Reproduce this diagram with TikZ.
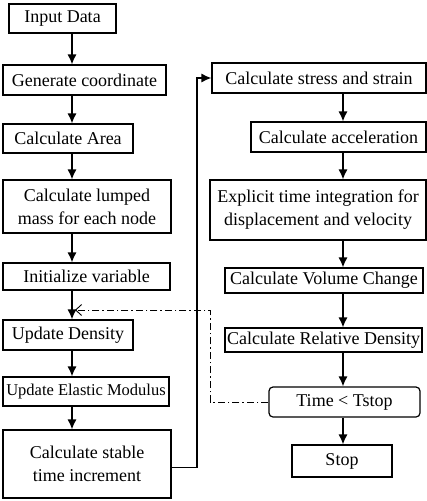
\documentclass[tikz,border=0pt]{standalone}
\usepackage{fontspec}
\setmainfont{Liberation Serif}
\usetikzlibrary{arrows.meta}

\begin{document}
\begin{tikzpicture}[->,>={Latex[length=10pt,width=9pt]},line width=1.2pt,
  box/.style={draw,rectangle,inner sep=1pt,align=center,font=\fontsize{18}{23}\selectfont},
  dashback/.style={->,>={Straight Barb[length=6pt,width=11pt]},line width=0.9pt,dash pattern=on 7pt off 3pt on 1.5pt off 3pt}]

        \useasboundingbox (0,0) rectangle (427pt,-501pt);
        \coordinate (l) at (72pt,0);
        \coordinate (r) at (343pt,0);
        \coordinate (k) at (197pt,0);
        \coordinate (d) at (210pt,-310pt);

        % left column
        \node[box,minimum width=107pt,minimum height=29pt] (1) at (62.5pt,-18.5pt) {Input Data};
        \node[box,minimum width=163pt,minimum height=30pt] (2) at (84.5pt,-80pt) {Generate coordinate};
        \node[box,minimum width=130pt,minimum height=29pt] (3) at (68pt,-138.5pt) {Calculate Area};
        \node[box,minimum width=168pt,minimum height=53pt] (4) at (87pt,-206.5pt) {Calculate lumped\\mass for each node};
        \node[box,minimum width=167pt,minimum height=27pt] (5) at (86.5pt,-276.5pt) {Initialize variable};
        \node[box,minimum width=130pt,minimum height=30pt] (6) at (68pt,-335pt) {Update Density};
        \node[box,minimum width=166pt,minimum height=29pt,font=\fontsize{16.5}{20}\selectfont] (7) at (86pt,-391.5pt) {Update Elastic Modulus};
        \node[box,minimum width=168pt,minimum height=68pt] (8) at (87pt,-464pt) {Calculate stable\\time increment};

        % right column
        \node[box,minimum width=214pt,minimum height=30pt] (9) at (319pt,-78pt) {Calculate stress and strain};
        \node[box,minimum width=175pt,minimum height=30pt] (10) at (338.5pt,-137pt) {Calculate acceleration};
        \node[box,minimum width=216pt,minimum height=60pt] (11) at (318pt,-210pt) {Explicit time integration for\\displacement and velocity};
        \node[box,minimum width=198pt,minimum height=25pt] (12) at (324pt,-280.5pt) {Calculate Volume Change};
        \node[box,minimum width=197pt,minimum height=24pt] (13) at (323.5pt,-340pt) {Calculate Relative Density};
        \node[box,rounded corners=4pt,minimum width=151pt,minimum height=30pt] (14) at (344.5pt,-402pt) {Time < Tstop};
        \node[box,minimum width=100pt,minimum height=32pt] (15) at (342pt,-461pt) {Stop};

        \path
            (1.south -| l) edge (2.north -| l)
            (2.south -| l) edge (3.north -| l)
            (3.south -| l) edge (4.north -| l)
            (4.south -| l) edge (5.north -| l)
            (5.south -| l) edge (6.north -| l)
            (6.south -| l) edge (7.north -| l)
            (7.south -| l) edge (8.north -| l)
            (9.south -| r) edge (10.north -| r)
            (10.south -| r) edge (11.north -| r)
            (11.south -| r) edge (12.north -| r)
            (12.south -| r) edge (13.north -| r)
            (13.south -| r) edge (14.north -| r)
            (14.south -| r) edge (15.north -| r)
            ;

        \draw ([yshift=-3.5pt]8.east) -| (k |- 9.west) -- (9.west);
        \draw[dashback] (14.west) -| (d) -- ([xshift=3pt]d -| l);
\end{tikzpicture}
\end{document}
